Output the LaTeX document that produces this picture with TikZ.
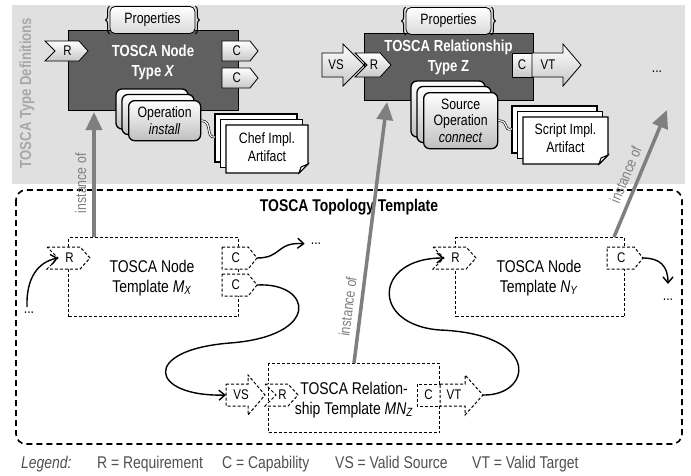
\documentclass[tikz,border=0pt]{standalone}
\usepackage{fontspec}
\setmainfont{Liberation Sans}[FakeStretch=0.82]
\usetikzlibrary{arrows.meta,decorations.pathreplacing,calc}

\definecolor{bandgray}{HTML}{E0E0E0}
\definecolor{darkfill}{HTML}{606060}
\definecolor{instcol}{HTML}{7F7F7F}
\definecolor{legcol}{HTML}{505050}
\definecolor{sidecol}{HTML}{A8A8A8}

\tikzset{
  darkbox/.style={draw=black, line width=1pt, fill=darkfill, inner sep=0pt},
  boxtitle/.style={text=white, font=\fontsize{16}{20}\selectfont\bfseries, align=center, inner sep=0pt},
  tplbox/.style={draw=black, line width=1pt, dash pattern=on 3pt off 2pt, fill=white, inner sep=0pt},
  tpltext/.style={font=\fontsize{17}{20}\selectfont, align=center, inner sep=0pt},
  typetag/.style={draw=black, line width=0.8pt, top color=white, bottom color=black!22},
  tpltag/.style={draw=black, line width=1pt, dash pattern=on 3pt off 2pt, fill=white},
  tagtext/.style={font=\fontsize{14}{16}\selectfont, inner sep=0pt},
  opbox/.style={draw=black, line width=1.3pt, rounded corners=6pt, top color=white, bottom color=black!25},
  optext/.style={font=\fontsize{15}{16.5}\selectfont, align=center, inner sep=0pt},
  sheet/.style={draw=black, line width=1.4pt, fill=white},
  arttext/.style={font=\fontsize{15}{18}\selectfont, align=center, inner sep=0pt},
  propstyle/.style={draw=black, line width=0.8pt, rounded corners=5pt, top color=white, bottom color=black!15,
    minimum width=85pt, minimum height=27pt, inner sep=0pt, font=\fontsize{15}{17}\selectfont},
  propbrace/.style={draw=black, line width=1pt, decorate, decoration={brace, amplitude=4pt}},
  squiggle/.style={draw=black, line width=0.6pt, double=white, double distance=1.2pt},
  inst/.style={draw=instcol, line width=3.5pt, -{Triangle[length=18pt,width=16pt]}},
  instlabel/.style={text=instcol, font=\fontsize{15}{17}\selectfont, inner sep=2pt},
  flow/.style={draw=black, line width=1.4pt, -{Straight Barb[length=6pt,width=10pt]}},
  dots/.style={font=\fontsize{15}{17}\selectfont, inner sep=1pt},
  topo/.style={draw=black, line width=1.6pt, dash pattern=on 6pt off 4pt, rounded corners=10pt},
  legend/.style={text=legcol, font=\fontsize{17}{20}\selectfont, inner sep=0pt, anchor=base west}
}

% tag with a notched tail and a pointed head
% #1 name, #2 left x, #3 centre y, #4 width, #5 half height, #6 style, #7 text
\newcommand\notchtag[7]{%
  \draw[#6] (#2,#3-#5) -- (#2+#4-0.9*#5,#3-#5) -- (#2+#4,#3) -- (#2+#4-0.9*#5,#3+#5)
    -- (#2,#3+#5) -- (#2+#5,#3) -- cycle;
  \coordinate (#1-in) at (#2+#5,#3);
  \coordinate (#1-tip) at (#2+#4,#3);
  \node[tagtext] (#1) at (#2+#4/2+1,#3) {#7};}

% tag with a flat tail and a pointed head
\newcommand\flattag[7]{%
  \draw[#6] (#2,#3-#5) -- (#2+#4-0.8*#5,#3-#5) -- (#2+#4,#3) -- (#2+#4-0.8*#5,#3+#5)
    -- (#2,#3+#5) -- cycle;
  \coordinate (#1-tip) at (#2+#4,#3);
  \node[tagtext] (#1) at (#2+#4/2-#5/3,#3) {#7};}

% block arrow: #1 name, #2 tail x, #3 centre y, #4 head start x, #5 tip x,
% #6 body half height, #7 head half height, #8 style
\newcommand\blockarrow[8]{%
  \draw[#8] (#2,#3-#6) -- (#4,#3-#6) -- (#4,#3-#7) -- (#5,#3) -- (#4,#3+#7)
    -- (#4,#3+#6) -- (#2,#3+#6) -- cycle;
  \coordinate (#1-tail) at (#2,#3);
  \coordinate (#1-tip) at (#5,#3);}

% stack of three operation cards: #1 name, #2/#3 top left of front card, #4 width, #5 height, #6 text
\newcommand\opstack[6]{%
  \draw[opbox] (#2-12,#3-11) rectangle ++(#4,#5);
  \draw[opbox] (#2-6,#3-5.5) rectangle ++(#4,#5);
  \node[opbox, optext, anchor=north west, minimum width=#4pt, minimum height=#5pt] (#1) at (#2,#3) {#6};}

% stack of three artifact sheets, the front one with a folded corner
\newcommand\artstack[6]{%
  \draw[sheet] (#2-11,#3-11) rectangle ++(#4,#5);
  \draw[sheet] (#2-5.5,#3-5.5) rectangle ++(#4,#5);
  \draw[sheet] (#2,#3) -- ++(#4,0) -- ++(0,#5-9) -- ++(-9,9) -- ++(-#4+9,0) -- cycle;
  \draw[line width=1pt, fill=white] (#2+#4,#3+#5-9) -- (#2+#4-9,#3+#5) -- (#2+#4-7,#3+#5-6) -- cycle;
  \coordinate (#1-in) at (#2-11,#3+12);
  \node[arttext] (#1) at (#2+#4/2,#3+#5/2-2) {#6};}

% properties box with curly braces on both sides
\newcommand\propbox[3]{%
  \node[propstyle] (#1) at (#2,#3) {Properties};
  \draw[propbrace] (#1.south west) -- (#1.north west);
  \draw[propbrace] (#1.north east) -- (#1.south east);}

\begin{document}
\begin{tikzpicture}[x=1pt, y=-1pt]
  \useasboundingbox (0,0) rectangle (691,475);
  \fill[white] (0,0) rectangle (691,475);

  % ---------- type definitions band ----------
  \fill[bandgray] (12,5) rectangle (685,184);
  \node[rotate=90, text=sidecol, font=\fontsize{16}{18}\selectfont\bfseries, inner sep=0pt]
    (sidetitle) at (27,93) {TOSCA Type Definitions};

  % node type X
  \node[darkbox, anchor=north west, minimum width=170pt, minimum height=80pt] (typeX) at (68,30) {};
  \node[boxtitle] (typeXlbl) at (153,62) {TOSCA Node\\Type \textit{X}};
  \propbox{propX}{152.5}{20}
  \notchtag{tR}{45}{51}{43}{10}{typetag}{R}
  \flattag{tC1}{222}{51}{36}{10}{typetag}{C}
  \flattag{tC2}{222}{78}{36}{10}{typetag}{C}
  \opstack{opX}{128}{100}{72}{40}{Operation\\\textit{install}}
  \artstack{artX}{226}{125}{82}{48}{Chef Impl.\\Artifact}
  \draw[squiggle] (opX.east) .. controls +(12,0) and +(-10,2) .. (artX-in);

  % relationship type Z
  \node[darkbox, anchor=north west, minimum width=169pt, minimum height=67pt] (typeZ) at (364,33) {};
  \node[boxtitle] (typeZlbl) at (448.5,57) {TOSCA Relationship\\Type Z};
  \propbox{propZ}{448.5}{21}
  \blockarrow{tVS}{322}{65}{343}{364}{12}{21}{typetag}
  \node[tagtext] (tVSlbl) at (336,65) {VS};
  \notchtag{tZR}{355}{65}{36}{12}{typetag}{R}
  \draw[typetag] (512,53) rectangle (532,77);
  \node[tagtext] (tZC) at (522,65) {C};
  \blockarrow{tVT}{532}{65}{563}{581}{12}{21}{typetag}
  \node[tagtext] (tVTlbl) at (548,65) {VT};
  \opstack{opZ}{423}{92}{74}{56}{Source\\Operation\\\textit{connect}}
  \artstack{artZ}{523}{117}{85}{47}{Script Impl.\\Artifact}
  \draw[squiggle] (opZ.east) .. controls +(12,0) and +(-10,2) .. (artZ-in);
  \node[dots] (dotsT) at (657,72) {...};

  % ---------- topology template ----------
  \draw[topo] (16,190) rectangle (682,444);
  \node[font=\fontsize{17}{19}\selectfont\bfseries, inner sep=0pt] (topotitle) at (349,207) {TOSCA Topology Template};

  % node template M_X
  \node[tplbox, anchor=north west, minimum width=170pt, minimum height=79pt] (mx) at (68,237) {};
  \node[tpltext] (mxlbl) at (152,278) {TOSCA Node\\Template \textit{M}\textsubscript{\textit{X}}};
  \notchtag{mR}{47}{258}{43}{11}{tpltag}{R}
  \flattag{mC1}{222}{258}{35}{11}{tpltag}{C}
  \flattag{mC2}{222}{285}{35}{11}{tpltag}{C}

  % node template N_Y
  \node[tplbox, anchor=north west, minimum width=169pt, minimum height=79pt] (ny) at (455,237) {};
  \node[tpltext] (nylbl) at (539,278) {TOSCA Node\\Template \textit{N}\textsubscript{\textit{Y}}};
  \notchtag{nR}{433}{258}{43}{11}{tpltag}{R}
  \flattag{nC}{607}{258}{36}{11}{tpltag}{C}

  % relationship template MN_Z
  \node[tplbox, anchor=north west, minimum width=171pt, minimum height=69pt] (mnz) at (268,363) {};
  \node[tpltext] (mnzlbl) at (354,400) {TOSCA Relation-\\ship Template \textit{MN}\textsubscript{\textit{Z}}};
  \blockarrow{mVS}{226}{395}{248}{265}{11}{20}{tpltag}
  \node[tagtext] (mVSlbl) at (241,395) {VS};
  \notchtag{mnR}{265}{395}{33}{11}{tpltag}{R}
  \draw[tpltag] (417,384) rectangle (440,406);
  \node[tagtext] (mnC) at (428.5,395) {C};
  \blockarrow{mVT}{440}{395}{465}{483}{11}{20}{tpltag}
  \node[tagtext] (mVTlbl) at (454,395) {VT};

  % ---------- connectors between templates ----------
  \node[dots] (dotsA) at (29,313) {...};
  \node[dots] (dotsB) at (316,244) {...};
  \node[dots] (dotsE) at (668,300) {...};
  \draw[flow] (dotsA.north) ++(-2,-4) .. controls (26,278) and (38,262) .. (mR-in);
  \draw[flow, shorten >=5pt] (mC1-tip) .. controls (282,258) and (276,242) .. (dotsB.west);
  \draw[flow] (mC2-tip) .. controls (312,282) and (322,336) .. (230,343)
    .. controls (140,350) and (150,397) .. (mVS-tail);
  \draw[flow] (mVT-tip) .. controls (532,396) and (542,334) .. (440,330)
    .. controls (370,325) and (374,258) .. (nR-in);
  \draw[flow, shorten >=14pt] (nC-tip) .. controls (660,258) and (668,266) .. (dotsE.north);

  % ---------- instance-of relations ----------
  \coordinate (inst3end) at (667,110);
  \draw[inst] ($(mx.north west)+(26,0)$) -- ($(typeX.south west)+(26,1)$)
    node[instlabel, pos=0.43, sloped, above=4pt] {instance of};
  \draw[inst] (mnz.north) -- ($(typeZ.south west)+(23,1)$)
    node[instlabel, pos=0.21, sloped, above=4pt] {instance of};
  \draw[inst] ($(ny.north east)+(-11,0)$) -- (inst3end)
    node[instlabel, pos=0.45, sloped, above=4pt] {instance of};

  % ---------- legend ----------
  \node[legend] (lg0) at (21,468) {\textit{Legend:}};
  \node[legend] (lg1) at (97,468) {R = Requirement};
  \node[legend] (lg2) at (222,468) {C = Capability};
  \node[legend] (lg3) at (335,468) {VS = Valid Source};
  \node[legend] (lg4) at (472,468) {VT = Valid Target};
\end{tikzpicture}
\end{document}
